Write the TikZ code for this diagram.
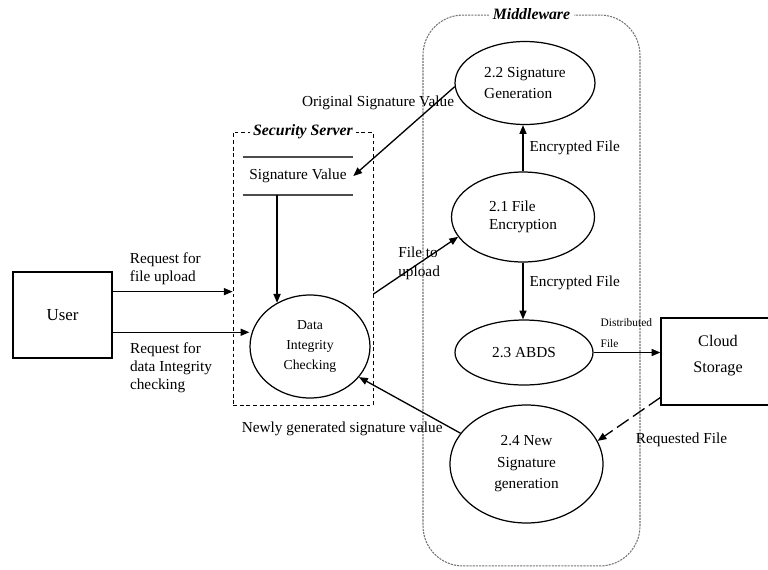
\documentclass[tikz,border=0pt]{standalone}
\usepackage{fontspec}
\setmainfont{Liberation Serif}
\usetikzlibrary{arrows.meta,positioning,shapes.geometric,calc}

\begin{document}
\begin{tikzpicture}[
        x=0.02cm, y=-0.02cm,
        font=\fontsize{8.7}{10.4}\selectfont,
        >={Triangle[length=5pt,width=4pt]},
        entity/.style={rectangle,draw,line width=0.7pt,inner sep=0pt,align=center},
        process/.style={ellipse,draw,line width=0.7pt,inner sep=0pt},
        boundary/.style={rectangle,draw,inner sep=0pt},
        boxtitle/.style={fill=white,text=black,inner sep=2pt,font=\fontsize{9}{10}\selectfont\bfseries\itshape},
        arrow/.style={->,line width=0.75pt}
    ]
        \useasboundingbox (0,0) rectangle (768,569);
        \clip (0,0) rectangle (768,569);

        \node[boundary,dash pattern=on 2.2pt off 1.6pt,minimum width=2.8cm,minimum height=5.46cm] (sec) at (303,268.5) {};
        \node[boundary,black!55,line width=0.6pt,dash pattern=on 1.2pt off 0.6pt,rounded corners=0.8cm,minimum width=4.34cm,minimum height=11.02cm] (mw) at (531.5,290.5) {};
        \node[boxtitle] (sectitle) at (sec.north) {Security Server};
        \node[boxtitle] (mwtitle) at (mw.north) {Middleware};

        \node[entity,minimum width=1.98cm,minimum height=1.72cm,font=\fontsize{9.6}{11}\selectfont] (user) at (62.5,315) {User};
        \node[minimum width=2.2cm,minimum height=0.76cm,inner sep=0pt] (sigval) at (298,176) {Signature Value};
        \draw[black!70,line width=1pt] (sigval.north west) -- (sigval.north east) (sigval.south west) -- (sigval.south east);
        \node[process,minimum width=2.4cm,minimum height=2.06cm,align=center,font=\fontsize{7.8}{11.2}\selectfont] (dic) at (310,346.5) {Data\\Integrity\\Checking};

        \node[process,minimum width=2.8cm,minimum height=1.66cm,align=left,font=\fontsize{8.7}{12.4}\selectfont] (sg) at (525,83) {2.2 Signature\\Generation};
        \node[process,minimum width=2.86cm,minimum height=1.8cm,align=left] (fe) at (523,217) {2.1 File\\Encryption};
        \node[process,minimum width=2.76cm,minimum height=1.3cm] (abds) at (524,352.5) {2.3 ABDS};
        \node[process,minimum width=3.06cm,minimum height=2.36cm,align=center,font=\fontsize{8.7}{12.2}\selectfont] (ns) at (526.5,464) {2.4 New\\Signature\\generation};
        \node[entity,minimum width=2.28cm,minimum height=1.74cm,font=\fontsize{9.2}{15}\selectfont] (cloud) at (718,361.5) {Cloud\\Storage\\[-6pt]\mbox{}};

        \draw[arrow] (user.25) -- node[pos=0.09,above right,align=left] {Request for\\file upload} (user.25 -| sec.west);
        \draw[arrow] (user.-19) -- node[pos=0.08,below right,align=left,yshift=-2pt] {Request for\\data Integrity\\checking} (user.-19 -| dic.west);
        \draw[arrow] (sigval.south -| dic.127) -- (dic.127);
        \draw[arrow] (sg.183) -- node[pos=0,anchor=east,inner sep=0pt,yshift=-9pt] {Original Signature Value} (sigval.east);
        \draw[arrow] (sec.-20) -- node[pos=0.54,align=left] {File to\\upload} (fe.197);
        \draw[arrow] (fe.north) -- node[midway,right] {Encrypted File} (fe.north |- sg.south);
        \draw[arrow] (fe.south) -- node[pos=0.35,right] {Encrypted File} (fe.south |- abds.north);
        \draw[arrow] (abds.east) -- node[pos=0.03,above right,align=left,inner sep=2.5pt,font=\fontsize{6.5}{12}\selectfont] {Distributed\\File} (abds.east -| cloud.west);
        \draw[arrow,dash pattern=on 8pt off 3pt] (cloud.212) -- node[pos=0.4,anchor=west,inner sep=0pt,yshift=-14pt] {Requested File} (ns.18);
        \draw[arrow] (ns.155) -- node[pos=0.17,anchor=east,inner sep=0pt,yshift=-3pt] {Newly generated signature value} (dic.-32);
    \end{tikzpicture}
\end{document}
